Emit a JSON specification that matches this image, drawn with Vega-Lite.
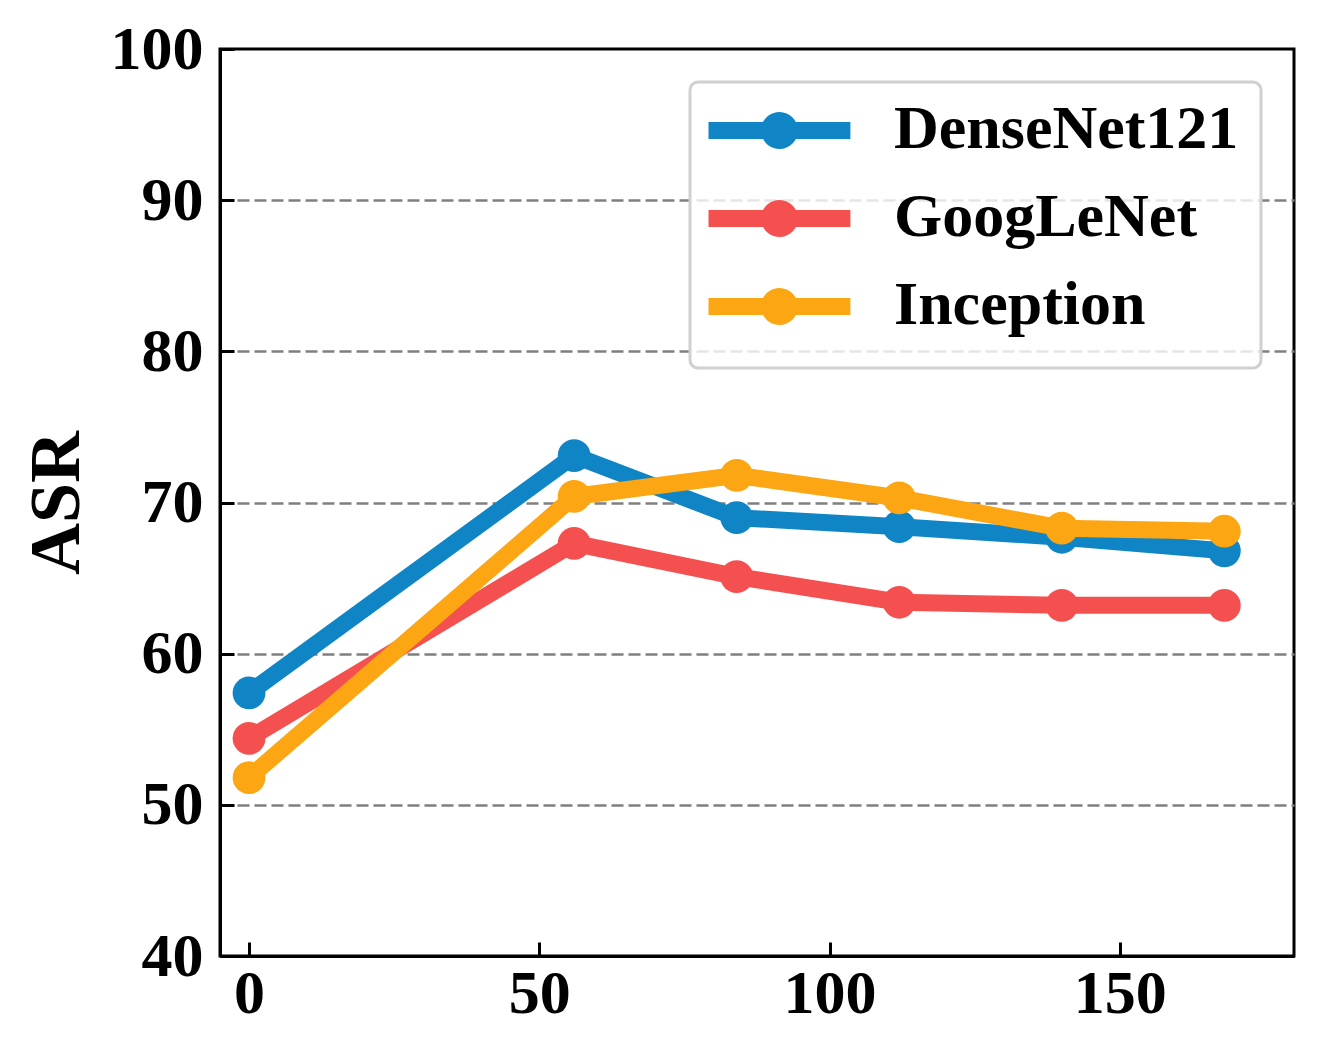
{
  "$schema": "https://vega.github.io/schema/vega-lite/v6.json",
  "autosize": {"type": "none"},
  "padding": {"left": 220, "top": 49, "right": 30, "bottom": 101},
  "width": 1074,
  "height": 907,
  "background": "white",
  "config": {
    "view": {"stroke": "black", "strokeWidth": 3},
    "font": "Liberation Serif",
    "axis": {
      "labelFont": "Liberation Serif",
      "labelFontWeight": "bold",
      "labelFontSize": 62,
      "labelColor": "black",
      "titleFont": "Liberation Serif",
      "titleFontWeight": "bold",
      "titleColor": "black",
      "domainColor": "black",
      "domainWidth": 3,
      "tickColor": "black",
      "tickWidth": 3,
      "tickSize": -14,
      "labelPadding": 31
    },
    "legend": {
      "orient": "none",
      "legendX": 470,
      "legendY": 33,
      "symbolType": "M-1.15,-0.43H3.58V0.13H-1.15Z M0.6,-0.15A0.617,0.617 0 1,1 1.834,-0.15A0.617,0.617 0 1,1 0.6,-0.15Z",
      "symbolSize": 3600,
      "symbolStrokeWidth": 0,
      "labelFont": "Liberation Serif",
      "labelFontWeight": "bold",
      "labelFontSize": 62,
      "labelColor": "black",
      "labelOffset": 120,
      "labelLimit": 600,
      "rowPadding": 26,
      "padding": 22,
      "titleOrient": "bottom",
      "titleFontSize": 6,
      "titlePadding": 4,
      "fillColor": "rgba(255,255,255,0.8)",
      "strokeColor": "#d0d0d0",
      "strokeWidth": 3,
      "cornerRadius": 8
    }
  },
  "data": {
    "values": [
      {"epoch": 0, "asr": 57.4, "model": "DenseNet121"},
      {"epoch": 56, "asr": 73.1, "model": "DenseNet121"},
      {"epoch": 84, "asr": 69.0, "model": "DenseNet121"},
      {"epoch": 112, "asr": 68.4, "model": "DenseNet121"},
      {"epoch": 140, "asr": 67.7, "model": "DenseNet121"},
      {"epoch": 168, "asr": 66.8, "model": "DenseNet121"},
      {"epoch": 0, "asr": 54.4, "model": "GoogLeNet"},
      {"epoch": 56, "asr": 67.3, "model": "GoogLeNet"},
      {"epoch": 84, "asr": 65.1, "model": "GoogLeNet"},
      {"epoch": 112, "asr": 63.4, "model": "GoogLeNet"},
      {"epoch": 140, "asr": 63.2, "model": "GoogLeNet"},
      {"epoch": 168, "asr": 63.2, "model": "GoogLeNet"},
      {"epoch": 0, "asr": 51.8, "model": "Inception"},
      {"epoch": 56, "asr": 70.4, "model": "Inception"},
      {"epoch": 84, "asr": 71.8, "model": "Inception"},
      {"epoch": 112, "asr": 70.3, "model": "Inception"},
      {"epoch": 140, "asr": 68.3, "model": "Inception"},
      {"epoch": 168, "asr": 68.1, "model": "Inception"}
    ]
  },
  "encoding": {
    "x": {
      "field": "epoch",
      "type": "quantitative",
      "scale": {"domain": [-5, 180], "nice": false, "zero": false},
      "axis": {"title": null, "values": [0, 50, 100, 150], "grid": false, "labelPadding": 21}
    },
    "y": {
      "field": "asr",
      "type": "quantitative",
      "scale": {"domain": [40, 100], "nice": false, "zero": false},
      "axis": {
        "title": "ASR",
        "titleFontSize": 72,
        "titlePadding": 17,
        "values": [40, 50, 60, 70, 80, 90, 100],
        "grid": true,
        "gridColor": "#808080",
        "gridWidth": 2.5,
        "gridDash": [12, 5],
        "gridOpacity": {"condition": {"test": "datum.value === 40 || datum.value === 100", "value": 0}, "value": 1}
      }
    },
    "color": {
      "field": "model",
      "type": "nominal",
      "scale": {
        "domain": ["DenseNet121", "GoogLeNet", "Inception"],
        "range": ["#1085c6", "#f55050", "#fca614"]
      },
      "legend": {
        "title": " ",
        "encode": {
          "symbols": {
            "update": {
              "fill": {"scale": "color", "field": "value"},
              "stroke": {"value": "transparent"},
              "opacity": {"value": 1}
            }
          },
          "labels": {
            "update": {"dy": {"value": -6}}
          }
        }
      }
    }
  },
  "layer": [
    {
      "transform": [{"filter": "datum.model === 'DenseNet121'"}],
      "mark": {"type": "line", "strokeWidth": 17, "point": {"filled": true, "size": 1075, "opacity": 1}}
    },
    {
      "transform": [{"filter": "datum.model === 'GoogLeNet'"}],
      "mark": {"type": "line", "strokeWidth": 17, "point": {"filled": true, "size": 1075, "opacity": 1}}
    },
    {
      "transform": [{"filter": "datum.model === 'Inception'"}],
      "mark": {"type": "line", "strokeWidth": 17, "point": {"filled": true, "size": 1075, "opacity": 1}}
    }
  ]
}
